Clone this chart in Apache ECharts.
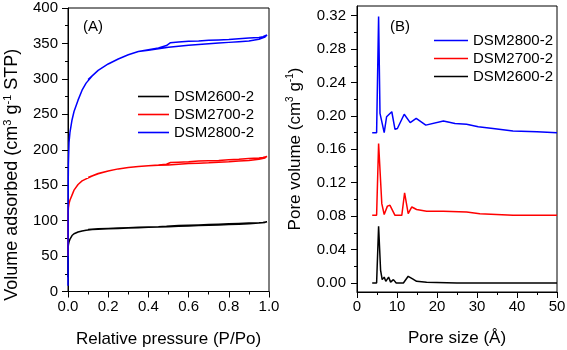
<!DOCTYPE html>
<html lang="en">
<head>
<meta charset="UTF-8">
<title>DSM isotherms and pore size</title>
<script src="https://cdn.jsdelivr.net/npm/echarts@6/dist/echarts.min.js"></script>
</head>
<body style="margin:0">
<div id="chart" style="width:567px;height:350px;"></div>
<script>
// (A) N2 isotherms: adsorption branch then desorption branch
const pAds = [0.0001, 0.0005, 0.001, 0.002, 0.005, 0.01, 0.02, 0.03, 0.05, 0.07, 0.09, 0.12, 0.15, 0.2, 0.25, 0.3, 0.35, 0.4, 0.45, 0.5, 0.55, 0.6, 0.65, 0.7, 0.75, 0.8, 0.85, 0.9, 0.95, 0.98, 0.99]
const pDes = [0.99, 0.97, 0.95, 0.9, 0.85, 0.8, 0.75, 0.7, 0.65, 0.6, 0.55, 0.51, 0.49, 0.45, 0.4, 0.35, 0.3, 0.25, 0.2, 0.15, 0.1]

const ads2600 = [20, 55, 62, 66, 70, 74, 79, 81.5, 84, 85.5, 86.5, 87.5, 88, 88.5, 89, 89.5, 90, 90.5, 91, 91.5, 92, 92.5, 93, 93.5, 94, 94.5, 95, 95.5, 96.5, 97.5, 98.5]
const des2600 = [98.5, 97.5, 97, 96.5, 96, 95.5, 95, 94.5, 94, 93.5, 93, 92.5, 92, 91.5, 91, 90.5, 90, 89.5, 89, 88.5, 87.5]
const ads2700 = [50, 100, 112, 118, 124, 129, 136, 143, 151, 156, 159, 163, 166, 170, 173, 175, 176.5, 177.5, 178, 178.5, 179.5, 180.5, 181, 181.5, 182.5, 183, 184, 185, 186.5, 188.5, 190.5]
const des2700 = [190.5, 189, 188.5, 187.5, 186.5, 186, 185, 184.5, 184, 183, 182.5, 182, 179.5, 178.5, 177.5, 176.5, 175, 173, 170, 166.5, 161]
const ads2800 = [8, 100, 150, 180, 210, 225, 242, 254, 270, 284, 294, 304, 312, 321, 328, 334, 338.5, 340.5, 342.5, 344.5, 346, 347.5, 348.5, 349.5, 350.5, 351.5, 352.5, 353.5, 356, 359, 362]
const des2800 = [362, 359.5, 358.5, 357.5, 356.5, 355.5, 355, 354.5, 353.5, 353, 352, 351, 347, 343.5, 341, 338.5, 334, 328, 321, 312, 299]

// (B) pore size distributions
const size2800 = [3.8, 4.9, 5.4, 5.75, 6.8, 7.4, 8.7, 9.5, 10.1, 11.8, 13.3, 14.8, 17.2, 21.6, 24.5, 27.4, 30.3, 34, 39, 45, 50]
const pv2800 = [0.18, 0.18, 0.319, 0.203, 0.18, 0.199, 0.205, 0.184, 0.185, 0.202, 0.192, 0.197, 0.189, 0.194, 0.191, 0.19, 0.187, 0.185, 0.182, 0.181, 0.18]
const size2700 = [3.8, 4.9, 5.4, 6.2, 6.8, 7.6, 8.25, 9.5, 11.2, 11.9, 12.8, 13.7, 14.9, 17.4, 21.6, 27.4, 30.7, 39, 50]
const pv2700 = [0.081, 0.081, 0.167, 0.095, 0.082, 0.092, 0.093, 0.081, 0.081, 0.108, 0.083, 0.091, 0.088, 0.086, 0.086, 0.085, 0.083, 0.081, 0.081]
const size2600 = [3.8, 4.9, 5.4, 5.9, 6.3, 6.8, 7.2, 7.9, 8.4, 9.1, 9.8, 11.6, 12.8, 13.9, 14.9, 17.4, 25, 50]
const pv2600 = [0, 0, 0.068, 0.015, 0.004, 0.007, 0.002, 0.007, 0.001, 0.004, 0, 0, 0.008, 0.005, 0.002, 0.001, 0, 0]

const pvTicks = [0, 0.04, 0.08, 0.12, 0.16, 0.20, 0.24, 0.28, 0.32]
const pvMinorTicks = [0.02, 0.06, 0.10, 0.14, 0.18, 0.22, 0.26, 0.30]

const names = ['DSM2600-2', 'DSM2700-2', 'DSM2800-2']
const colors = ['#000000', '#ff0000', '#0000ff']

const font = "'Liberation Sans', Arial, sans-serif"
const pair = (xs, ys) => xs.map((x, i) => [x, ys[i]])

const isoData = [
  pair(pAds, ads2600).concat(pair(pDes, des2600)),
  pair(pAds, ads2700).concat(pair(pDes, des2700)),
  pair(pAds, ads2800).concat(pair(pDes, des2800))
]
const psdData = [pair(size2600, pv2600), pair(size2700, pv2700), pair(size2800, pv2800)]

const axisBase = {
  axisLine: {show: true, onZero: false, lineStyle: {color: '#000', width: 1}},
  axisTick: {show: true, length: 6, lineStyle: {color: '#000'}},
  minorTick: {show: true, splitNumber: 2, length: 3, lineStyle: {color: '#000'}},
  splitLine: {show: false},
  axisLabel: {color: '#000', fontSize: 15, fontFamily: font},
  nameLocation: 'middle',
  nameTextStyle: {color: '#000', fontSize: 17, fontFamily: font}
}
const supRich = (size) => ({
  t: {fontSize: size, fontFamily: font, color: '#000', lineHeight: size + 3},
  s: {fontSize: size - 7, fontFamily: font, color: '#000', verticalAlign: 'top', lineHeight: size + 3}
})

const series = []
for (let i = 0; i < 3; i++) {
  series.push({name: names[i], type: 'line', xAxisIndex: 0, yAxisIndex: 0, symbol: 'none',
    data: isoData[i], lineStyle: {color: colors[i], width: 1.5}, itemStyle: {color: colors[i]}, z: 2 + i})
}
for (let i = 0; i < 3; i++) {
  series.push({name: names[i], type: 'line', xAxisIndex: 1, yAxisIndex: 1, symbol: 'none',
    data: psdData[i], lineStyle: {color: colors[i], width: 1.5}, itemStyle: {color: colors[i]}, z: 2 + i})
}

const legendBase = {orient: 'vertical', icon: 'rect', itemHeight: 1.6, itemGap: 3,
  textStyle: {fontSize: 15, color: '#000', fontFamily: font}}

const chart = echarts.init(document.getElementById('chart'))
chart.setOption({
  animation: false,
  textStyle: {fontFamily: font},
  grid: [
    {left: 68, top: 8, width: 201, height: 283.5, outerBoundsMode: 'none', containLabel: false,
      show: true, borderColor: '#000', borderWidth: 1},
    {left: 357, top: 6, width: 200, height: 286, outerBoundsMode: 'none', containLabel: false,
      show: true, borderColor: '#000', borderWidth: 1}
  ],
  xAxis: [
    Object.assign({}, axisBase, {gridIndex: 0, type: 'value', min: 0, max: 1, interval: 0.2,
      name: 'Relative pressure (P/Po)', nameGap: 39,
      axisLabel: Object.assign({}, axisBase.axisLabel, {margin: 8, formatter: v => v.toFixed(1)})}),
    Object.assign({}, axisBase, {gridIndex: 1, type: 'value', min: 0, max: 50, interval: 10,
      name: 'Pore size (Å)', nameGap: 38,
      axisLabel: Object.assign({}, axisBase.axisLabel, {margin: 7})})
  ],
  yAxis: [
    Object.assign({}, axisBase, {gridIndex: 0, type: 'value', min: 0, max: 400, interval: 50,
      name: '{t|Volume adsorbed (cm}{s|3}{t| g}{s|-1}{t| STP)}', nameGap: 45,
      nameTextStyle: {rich: supRich(18), padding: [0, 50, 0, 0]},
      axisLabel: Object.assign({}, axisBase.axisLabel, {margin: 10})}),
    Object.assign({}, axisBase, {gridIndex: 1, type: 'value', min: -0.0108, max: 0.3316,
      name: '{t|Pore volume (cm}{s|3}{t| g}{s|-1}{t|)}', nameGap: 52,
      nameTextStyle: {rich: supRich(17)},
      minorTick: {show: false},
      axisTick: {show: true, length: 6, lineStyle: {color: '#000'}, customValues: pvTicks},
      axisLabel: Object.assign({}, axisBase.axisLabel, {margin: 11, customValues: pvTicks, formatter: v => v.toFixed(2)})}),
    {gridIndex: 1, type: 'value', position: 'left', min: -0.0108, max: 0.3316,
      axisLine: {show: false}, splitLine: {show: false}, axisLabel: {show: false},
      axisTick: {show: true, length: 3, lineStyle: {color: '#000'}, customValues: pvMinorTicks}}
  ],
  legend: [
    Object.assign({}, legendBase, {left: 133, top: 84, itemWidth: 31, data: names.slice()}),
    Object.assign({}, legendBase, {left: 429, top: 28, itemWidth: 34, data: names.slice().reverse()})
  ],
  graphic: [
    {type: 'text', left: 83, top: 19, style: {text: '(A)', fontSize: 15, fontFamily: font, fill: '#000'}},
    {type: 'text', left: 390, top: 19, style: {text: '(B)', fontSize: 15, fontFamily: font, fill: '#000'}}
  ],
  series: series
})
</script>
</body>
</html>
